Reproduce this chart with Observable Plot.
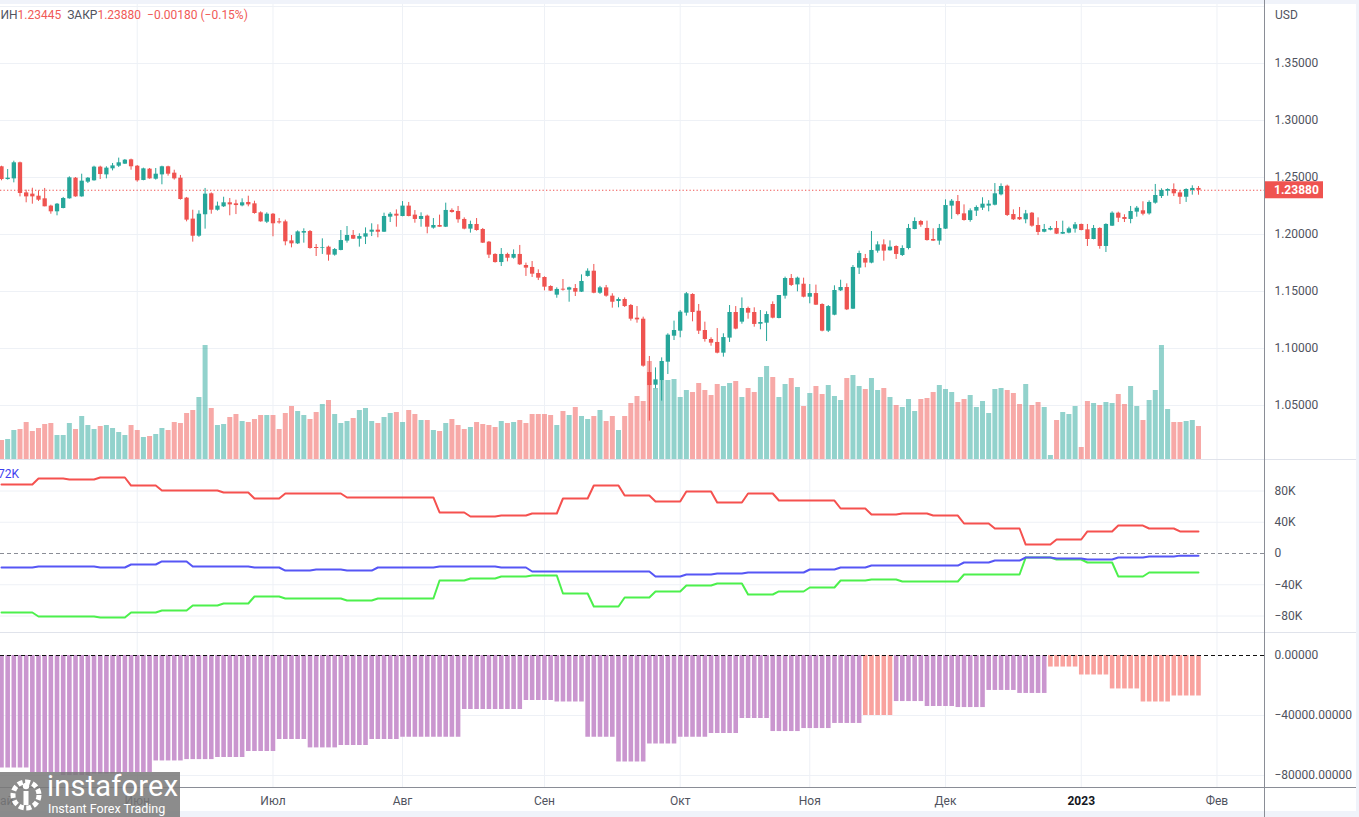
<!DOCTYPE html>
<html><head><meta charset="utf-8">
<script src="https://cdn.jsdelivr.net/npm/d3@7"></script>
<script src="https://cdn.jsdelivr.net/npm/@observablehq/plot@0.6"></script>
<style>
body{margin:0;background:#fff;font-family:Roboto,"Liberation Sans",sans-serif;}
#chart{position:relative;width:1359px;height:817px;overflow:hidden;background:#fff;}
.layer{position:absolute;left:0;}
.hl{position:absolute;left:0;width:1359px;height:1px;}
.txt{position:absolute;white-space:nowrap;font-size:12px;}
</style></head><body><div id="chart"></div>
<script>
// ---------- daily GBP/USD candles, 2 May 2022 .. 27 Jan 2023 (bar index 0..194) ----------
const opens = [1.2594,1.2482,1.2488,1.2629,1.2365,1.2354,1.2336,1.2313,1.2249,1.2199,1.2228,1.2313,1.2494,1.2330,1.2459,1.2471,1.2591,1.2523,1.2576,1.2599,1.2617,1.2655,1.2599,1.2474,1.2573,1.2485,1.2523,1.2594,1.2538,1.2494,1.2319,1.2135,1.1985,1.2173,1.2357,1.2213,1.2243,1.2278,1.2269,1.2251,1.2281,1.2269,1.2190,1.2108,1.2178,1.2111,1.2111,1.1944,1.1918,1.2012,1.2026,1.1886,1.1877,1.1889,1.1819,1.1860,1.1942,1.1991,1.1959,1.1977,1.2020,1.2038,1.2020,1.2152,1.2178,1.2158,1.2249,1.2170,1.2132,1.2161,1.2056,1.2079,1.2064,1.2211,1.2202,1.2132,1.2047,1.2088,1.2044,1.1933,1.1825,1.1754,1.1825,1.1792,1.1825,1.1728,1.1711,1.1658,1.1623,1.1544,1.1468,1.1520,1.1512,1.1526,1.1494,1.1632,1.1678,1.1485,1.1532,1.1459,1.1412,1.1430,1.1377,1.1266,1.1257,1.0789,1.0678,1.0719,1.0880,1.1108,1.1152,1.1310,1.1474,1.1327,1.1158,1.1079,1.1053,1.0959,1.1091,1.1316,1.1231,1.1351,1.1316,1.1213,1.1222,1.1386,1.1263,1.1459,1.1614,1.1558,1.1564,1.1450,1.1482,1.1386,1.1152,1.1292,1.1506,1.1535,1.1345,1.1705,1.1789,1.1749,1.1854,1.1909,1.1857,1.1895,1.1816,1.1877,1.2044,1.2114,1.2053,1.1956,1.1942,1.2047,1.2249,1.2289,1.2181,1.2123,1.2205,1.2231,1.2249,1.2257,1.2348,1.2424,1.2175,1.2149,1.2129,1.2187,1.2079,1.2020,1.2038,1.2053,1.2003,1.2012,1.2047,1.2088,1.2041,1.1956,1.2053,1.1895,1.2073,1.2187,1.2149,1.2132,1.2196,1.2208,1.2181,1.2275,1.2333,1.2380,1.2395,1.2365,1.2327,1.2386,1.2404];
const highs = [1.2599,1.2570,1.2643,1.2635,1.2389,1.2406,1.2383,1.2404,1.2257,1.2272,1.2325,1.2506,1.2500,1.2529,1.2500,1.2599,1.2599,1.2594,1.2623,1.2670,1.2658,1.2661,1.2605,1.2582,1.2579,1.2579,1.2599,1.2599,1.2564,1.2518,1.2325,1.2213,1.2208,1.2404,1.2365,1.2284,1.2327,1.2316,1.2301,1.2313,1.2336,1.2292,1.2199,1.2190,1.2184,1.2140,1.2126,1.1991,1.2032,1.2050,1.2035,1.1912,1.1962,1.1898,1.1877,1.2035,1.2070,1.2035,1.2006,1.2058,1.2094,1.2085,1.2187,1.2193,1.2216,1.2289,1.2281,1.2210,1.2190,1.2170,1.2140,1.2170,1.2275,1.2225,1.2246,1.2146,1.2117,1.2140,1.2053,1.1939,1.1831,1.1877,1.1836,1.1865,1.1904,1.1749,1.1763,1.1690,1.1629,1.1550,1.1532,1.1605,1.1538,1.1561,1.1646,1.1699,1.1737,1.1545,1.1553,1.1480,1.1444,1.1444,1.1386,1.1368,1.1275,1.0930,1.0830,1.0918,1.1129,1.1240,1.1333,1.1491,1.1480,1.1386,1.1231,1.1094,1.1175,1.1129,1.1377,1.1368,1.1444,1.1363,1.1357,1.1333,1.1322,1.1409,1.1465,1.1626,1.1649,1.1626,1.1617,1.1561,1.1556,1.1392,1.1377,1.1550,1.1599,1.1567,1.1728,1.1854,1.1825,1.2026,1.1936,1.1953,1.1944,1.1901,1.1901,1.2088,1.2146,1.2123,1.2117,1.2050,1.2088,1.2304,1.2307,1.2342,1.2260,1.2225,1.2251,1.2322,1.2297,1.2447,1.2444,1.2433,1.2216,1.2237,1.2211,1.2193,1.2146,1.2088,1.2070,1.2114,1.2117,1.2064,1.2105,1.2091,1.2088,1.2079,1.2059,1.2094,1.2199,1.2196,1.2173,1.2246,1.2246,1.2287,1.2295,1.2439,1.2401,1.2401,1.2444,1.2386,1.2401,1.2427,1.2421];
const lows = [1.2471,1.2477,1.2453,1.2330,1.2278,1.2266,1.2290,1.2243,1.2178,1.2164,1.2225,1.2310,1.2327,1.2327,1.2447,1.2468,1.2482,1.2488,1.2558,1.2588,1.2614,1.2564,1.2459,1.2471,1.2485,1.2477,1.2436,1.2512,1.2477,1.2301,1.2111,1.1933,1.1975,1.2047,1.2178,1.2205,1.2237,1.2164,1.2175,1.2243,1.2243,1.2178,1.2108,1.2096,1.1980,1.2091,1.1901,1.1883,1.1912,1.1924,1.1871,1.1807,1.1825,1.1766,1.1810,1.1857,1.1924,1.1956,1.1889,1.1912,1.1982,1.1971,1.2018,1.2105,1.2064,1.2155,1.2155,1.2099,1.2064,1.2006,1.2047,1.2064,1.2061,1.2187,1.2099,1.2041,1.2012,1.2029,1.1921,1.1789,1.1749,1.1719,1.1760,1.1784,1.1728,1.1632,1.1623,1.1596,1.1506,1.1500,1.1441,1.1503,1.1406,1.1456,1.1491,1.1626,1.1480,1.1475,1.1450,1.1354,1.1357,1.1360,1.1240,1.1222,1.0836,1.0363,1.0646,1.0538,1.0772,1.1070,1.1094,1.1284,1.1234,1.1123,1.1056,1.1020,1.0953,1.0924,1.1053,1.1164,1.1213,1.1257,1.1187,1.1164,1.1061,1.1260,1.1260,1.1433,1.1544,1.1497,1.1444,1.1392,1.1377,1.1146,1.1140,1.1287,1.1500,1.1333,1.1342,1.1649,1.1708,1.1743,1.1836,1.1766,1.1854,1.1781,1.1807,1.1865,1.2041,1.2064,1.1942,1.1939,1.1906,1.2044,1.2132,1.2164,1.2117,1.2108,1.2158,1.2211,1.2199,1.2251,1.2339,1.2158,1.2123,1.2123,1.2094,1.2064,1.1991,1.2015,1.2032,1.2000,1.2000,1.2006,1.2012,1.2032,1.1895,1.1953,1.1871,1.1842,1.2070,1.2105,1.2105,1.2094,1.2152,1.2164,1.2170,1.2266,1.2316,1.2336,1.2333,1.2263,1.2281,1.2345,1.23445];
const closes = [1.2482,1.2494,1.2629,1.2360,1.2330,1.2330,1.2301,1.2243,1.2199,1.2266,1.2316,1.2497,1.2330,1.2468,1.2494,1.2591,1.2526,1.2582,1.2602,1.2629,1.2652,1.2594,1.2471,1.2576,1.2488,1.2529,1.2594,1.2529,1.2488,1.2307,1.2126,1.1985,1.2178,1.2354,1.2213,1.2249,1.2278,1.2260,1.2254,1.2278,1.2260,1.2184,1.2111,1.2178,1.2094,1.2102,1.1936,1.1918,1.2023,1.2026,1.1877,1.1877,1.1883,1.1819,1.1868,1.1947,1.1991,1.1959,1.1982,1.2006,1.2038,1.2020,1.2158,1.2178,1.2161,1.2249,1.2158,1.2132,1.2158,1.2064,1.2079,1.2064,1.2211,1.2193,1.2129,1.2047,1.2088,1.2035,1.1924,1.1819,1.1754,1.1825,1.1792,1.1825,1.1734,1.1705,1.1652,1.1617,1.1538,1.1503,1.1518,1.1512,1.1532,1.1494,1.1588,1.1678,1.1485,1.1532,1.1459,1.1406,1.1430,1.1368,1.1257,1.1251,1.0845,1.0675,1.0725,1.0886,1.1117,1.1158,1.1319,1.1480,1.1316,1.1152,1.1079,1.1047,1.0959,1.1096,1.1316,1.1170,1.1351,1.1310,1.1211,1.1228,1.1298,1.1266,1.1465,1.1614,1.1553,1.1617,1.1450,1.1482,1.1380,1.1152,1.1368,1.1509,1.1535,1.1339,1.1711,1.1833,1.1749,1.1860,1.1909,1.1854,1.1889,1.1825,1.1877,1.2053,1.2114,1.2082,1.1947,1.1942,1.2053,1.2254,1.2292,1.2175,1.2123,1.2208,1.2237,1.2266,1.2266,1.2357,1.2421,1.2167,1.2129,1.2129,1.2181,1.2073,1.2018,1.2044,1.2053,1.2003,1.2018,1.2050,1.2085,1.2035,1.1956,1.2053,1.1895,1.2088,1.2187,1.2143,1.2132,1.2202,1.2231,1.2178,1.2281,1.2342,1.2386,1.2395,1.2357,1.2327,1.2395,1.2404,1.2388];
// tick volume, thousands
const volumes = [19,20,29,30,37,28,31,35,36,24,24,36,30,43,34,30,33,34,31,27,24,34,29,22,23,25,31,29,37,36,46,49,62,114,51,34,35,42,45,38,37,40,44,44,44,30,46,53,48,44,40,47,55,59,45,36,38,41,49,51,38,36,42,46,47,37,49,45,39,39,29,28,36,40,34,30,32,37,35,34,32,38,36,37,39,36,45,45,45,44,34,48,44,52,43,40,43,49,38,43,29,43,56,63,58,98,71,79,79,80,62,69,67,76,69,64,75,73,76,78,62,71,67,82,93,82,62,75,81,72,53,66,73,65,74,63,59,81,84,73,70,81,69,71,62,54,52,60,48,60,61,67,74,70,67,57,60,64,52,58,46,70,71,69,66,55,75,54,57,52,4,39,47,45,53,12,58,56,54,57,56,65,55,73,53,39,59,69,114,50,37,37,38,39,33];

// time axis
const monthTicks = [0,22,44,65,88,110,131,153,175,197];
const monthLabels = ["Май","Июн","Июл","Авг","Сен","Окт","Ноя","Дек","2023","Фев"];
const priceTicks = [1.05,1.10,1.15,1.20,1.25,1.30,1.35];
const priceGrid = [1.05,1.10,1.15,1.20,1.25,1.30,1.35,1.40];
const changeAbs = -0.00180, changePct = -0.15;

// COT positioning, weekly (thousands of contracts)
const cotLong  = [88.3,88.3,96,94.7,97.3,87,80.6,80.6,78,70.4,76.8,76.8,71.7,71.7,71.7,52.5,47.4,48.6,51.2,70.4,87,74.2,66.6,79.4,65.3,76.8,67.8,67.8,57.6,49.9,51.2,48.6,38.4,32,11.5,17.9,28.2,35.8,32,28.2];
const cotShort = [-75.5,-75.5,-80.6,-80.6,-81.9,-75.5,-73,-66.6,-64,-55,-57.6,-57.6,-60.2,-57.6,-57.6,-34.6,-32,-29.4,-28.2,-51.2,-67.8,-56.3,-48.6,-41,-38.4,-52.5,-48.6,-43.5,-34.6,-33.3,-35.8,-35.8,-26.9,-26.9,-5.1,-7.7,-11.5,-29.4,-24.3,-24.3];
const cotNet   = [-17.9,-17.9,-16.6,-16.6,-17.9,-14.1,-10.2,-16.6,-16.6,-17.9,-21.8,-20.5,-21.8,-17.9,-17.9,-16.6,-16.6,-17.9,-23,-23,-23,-23,-29.4,-26.9,-25.6,-24.3,-24.3,-20.5,-17.9,-15.4,-15.4,-15.4,-11.5,-9,-5.1,-6.4,-7.7,-5.1,-3.8,-2.72];
const cotCaption = "72K";

// histogram, weekly
const histValues = [-75000,-78000,-80000,-79000,-78000,-70300,-69400,-68000,-64000,-56000,-61600,-60000,-56000,-54500,-54500,-36000,-36000,-30000,-31000,-54500,-71000,-59000,-54500,-52000,-42000,-50700,-48700,-45300,-40000,-30700,-34000,-34700,-23300,-25300,-7700,-13000,-22300,-31000,-27000];
const histSignal = [0,0,0,0,0,0,0,0,0,0,0,0,0,0,0,0,0,0,0,0,0,0,0,0,0,0,0,0,1,0,0,0,0,0,1,1,1,1,1];

// ---------- build ----------
const UP = "#26a69a", DOWN = "#ef5350";
const bars = closes.map((c, i) => ({i, o: opens[i], h: highs[i], l: lows[i], c, v: volumes[i], up: c >= opens[i]}));
const last = bars[bars.length - 1];
const cotBars = bars.map(d => {const w = Math.floor((d.i + 4) / 5); return {i: d.i, long: cotLong[w], short: cotShort[w], net: cotNet[w]};});
const histBars = bars.map(d => {const w = Math.floor(d.i / 5); return {i: d.i, v: histValues[w], s: histSignal[w]};});

const X = {type: "linear", domain: [-0.16, 204.7], axis: null};
const base = {width: 1359, marginLeft: 0, marginRight: 95, marginTop: 0,
  style: {background: "transparent", fontFamily: "Roboto, 'Liberation Sans', sans-serif", fontSize: "12px", color: "#50535e"}};
const GRID = "#eef1f6";
const gridX = Plot.ruleX(monthTicks.slice(1), {stroke: GRID});
const Ydom = [1.002632, 1.405263];
const f5 = d3.format(".5f");

const chart = document.getElementById("chart");
function place(svg, top) { svg.classList.add("layer"); svg.style.top = top + "px"; chart.appendChild(svg); return svg; }

// layer 1: grid
place(Plot.plot({...base, height: 459, marginBottom: 0, x: X, y: {domain: Ydom, axis: null},
  marks: [Plot.ruleY(priceGrid, {stroke: GRID}), gridX]}), 0);
// layer 2: volume
place(Plot.plot({...base, height: 459, marginBottom: 0, x: X, y: {domain: [0, 459], axis: null},
  marks: [Plot.ruleX(bars, {x: "i", y1: 0, y2: "v", strokeWidth: 5,
    stroke: d => d.up ? "rgba(38,166,154,0.5)" : "rgba(239,83,80,0.5)"})]}), 0);
// layer 3: candles
const main = place(Plot.plot({...base, height: 459, marginBottom: 0, x: X, y: {domain: Ydom, axis: null},
  marks: [
    Plot.ruleY([last.c], {stroke: DOWN, strokeDasharray: "1.3,2.2", strokeWidth: 1.2}),
    Plot.ruleX(bars, {x: "i", y1: "l", y2: "h", stroke: d => d.up ? UP : DOWN, strokeWidth: 1}),
    Plot.ruleX(bars, {x: "i", y1: "o", y2: "c", stroke: d => d.up ? UP : DOWN, strokeWidth: 4.3}),
    Plot.axisY(priceTicks, {anchor: "right", label: null, tickFormat: f5, tickSize: 0, tickPadding: 10})
  ]}), 0);
{
  const y = main.scale("y").apply(last.c);
  const g = d3.select(main).append("g").attr("text-anchor", "start");
  g.append("rect").attr("x", 1264).attr("y", y - 8.5).attr("width", 59).attr("height", 17).attr("fill", last.c >= last.o ? UP : DOWN);
  g.append("text").attr("x", 1274).attr("y", y).attr("dy", "0.35em").attr("fill", "#fff")
    .attr("font-weight", "bold").attr("font-size", 12).text(f5(last.c));
}
// layer 4: COT lines
const fmtK = d => d === 0 ? "0" : (d < 0 ? "\u2212" : "") + Math.abs(d) + "K";
place(Plot.plot({...base, height: 172, marginBottom: 0, x: X, y: {domain: [-101.12, 119.04], axis: null},
  marks: [
    Plot.ruleY([-80, -40, 40, 80], {stroke: GRID}), gridX,
    Plot.ruleY([0], {stroke: "#8a8d96", strokeDasharray: "4,3"}),
    Plot.line(cotBars, {x: "i", y: "long", stroke: "#f5514f", strokeWidth: 2}),
    Plot.line(cotBars, {x: "i", y: "short", stroke: "#4cf04c", strokeWidth: 2}),
    Plot.line(cotBars, {x: "i", y: "net", stroke: "#5656f5", strokeWidth: 2}),
    Plot.axisY([-80, -40, 0, 40, 80], {anchor: "right", label: null, tickFormat: fmtK, tickSize: 0, tickPadding: 10})
  ]}), 460);
// layer 5: histogram + time axis
const labelOf = new Map(monthTicks.map((t, k) => [t, monthLabels[k]]));
const hist = place(Plot.plot({...base, height: 184, marginBottom: 29, x: X, y: {domain: [-88667, 14667], axis: null},
  marks: [
    Plot.ruleY([-40000, -80000], {stroke: GRID}), gridX,
    Plot.ruleX(histBars, {x: "i", y1: 0, y2: "v", strokeWidth: 4.6, stroke: d => d.s ? "#f9a29e" : "#ca96cf"}),
    Plot.ruleY([0], {stroke: "#111", strokeDasharray: "4,3"}),
    Plot.axisY([0, -40000, -80000], {anchor: "right", label: null, tickFormat: f5, tickSize: 0, tickPadding: 10}),
    Plot.axisX(monthTicks, {anchor: "bottom", label: null, tickFormat: d => labelOf.get(d), tickSize: 0, tickPadding: 8})
  ]}), 633);
d3.select(hist).selectAll("text").filter(function(){return this.textContent === "2023";}).attr("font-weight", "bold").attr("fill", "#131722");

// chrome
chart.insertAdjacentHTML("beforeend", `
<div class="hl" style="top:0;height:4px;background:#f0f3fa"></div>
<div class="hl" style="top:459px;background:#e0e3eb"></div>
<div class="hl" style="top:632px;background:#e0e3eb"></div>
<div class="hl" style="top:787px;background:#8a8d96"></div>
<div class="hl" style="top:811px;height:6px;background:#f0f3fa"></div>
<div style="position:absolute;left:1264px;top:0;width:1px;height:817px;background:#8a8d96"></div>
<div style="position:absolute;left:1356px;top:0;width:3px;height:817px;background:#f0f3fa"></div>
<div class="txt" style="left:1275px;top:8px;color:#50535e">USD</div>
<div class="txt" style="left:-10px;top:8px;color:#50535e">МИН<span style="color:#f05a57">${f5(last.l)}</span>&nbsp; ЗАКР<span style="color:#f05a57">${f5(last.c)}</span>&nbsp; <span style="color:#f05a57">\u2212${f5(Math.abs(changeAbs))} (\u2212${Math.abs(changePct).toFixed(2)}%)</span></div>
<div class="txt" style="left:-2px;top:467px;color:#3f3ff0">${cotCaption}</div>
<div style="position:absolute;left:0;top:772px;width:180px;height:45px;background:rgba(120,120,120,0.85);color:#fff;overflow:hidden">
 <svg width="44" height="45" style="position:absolute;left:4px;top:0">
  <circle cx="22" cy="23" r="13" fill="none" stroke="#fff" stroke-width="5" stroke-dasharray="5,2.5"/>
  <circle cx="22" cy="14" r="3.2" fill="#fff"/>
  <rect x="19.5" y="19" width="5" height="14" fill="#fff"/>
 </svg>
 <div style="position:absolute;left:47px;top:-3px;font-size:29px;letter-spacing:0.2px">instaforex</div>
 <div style="position:absolute;left:48px;top:29px;font-size:12.5px">Instant Forex Trading</div>
</div>`);
</script></body></html>
